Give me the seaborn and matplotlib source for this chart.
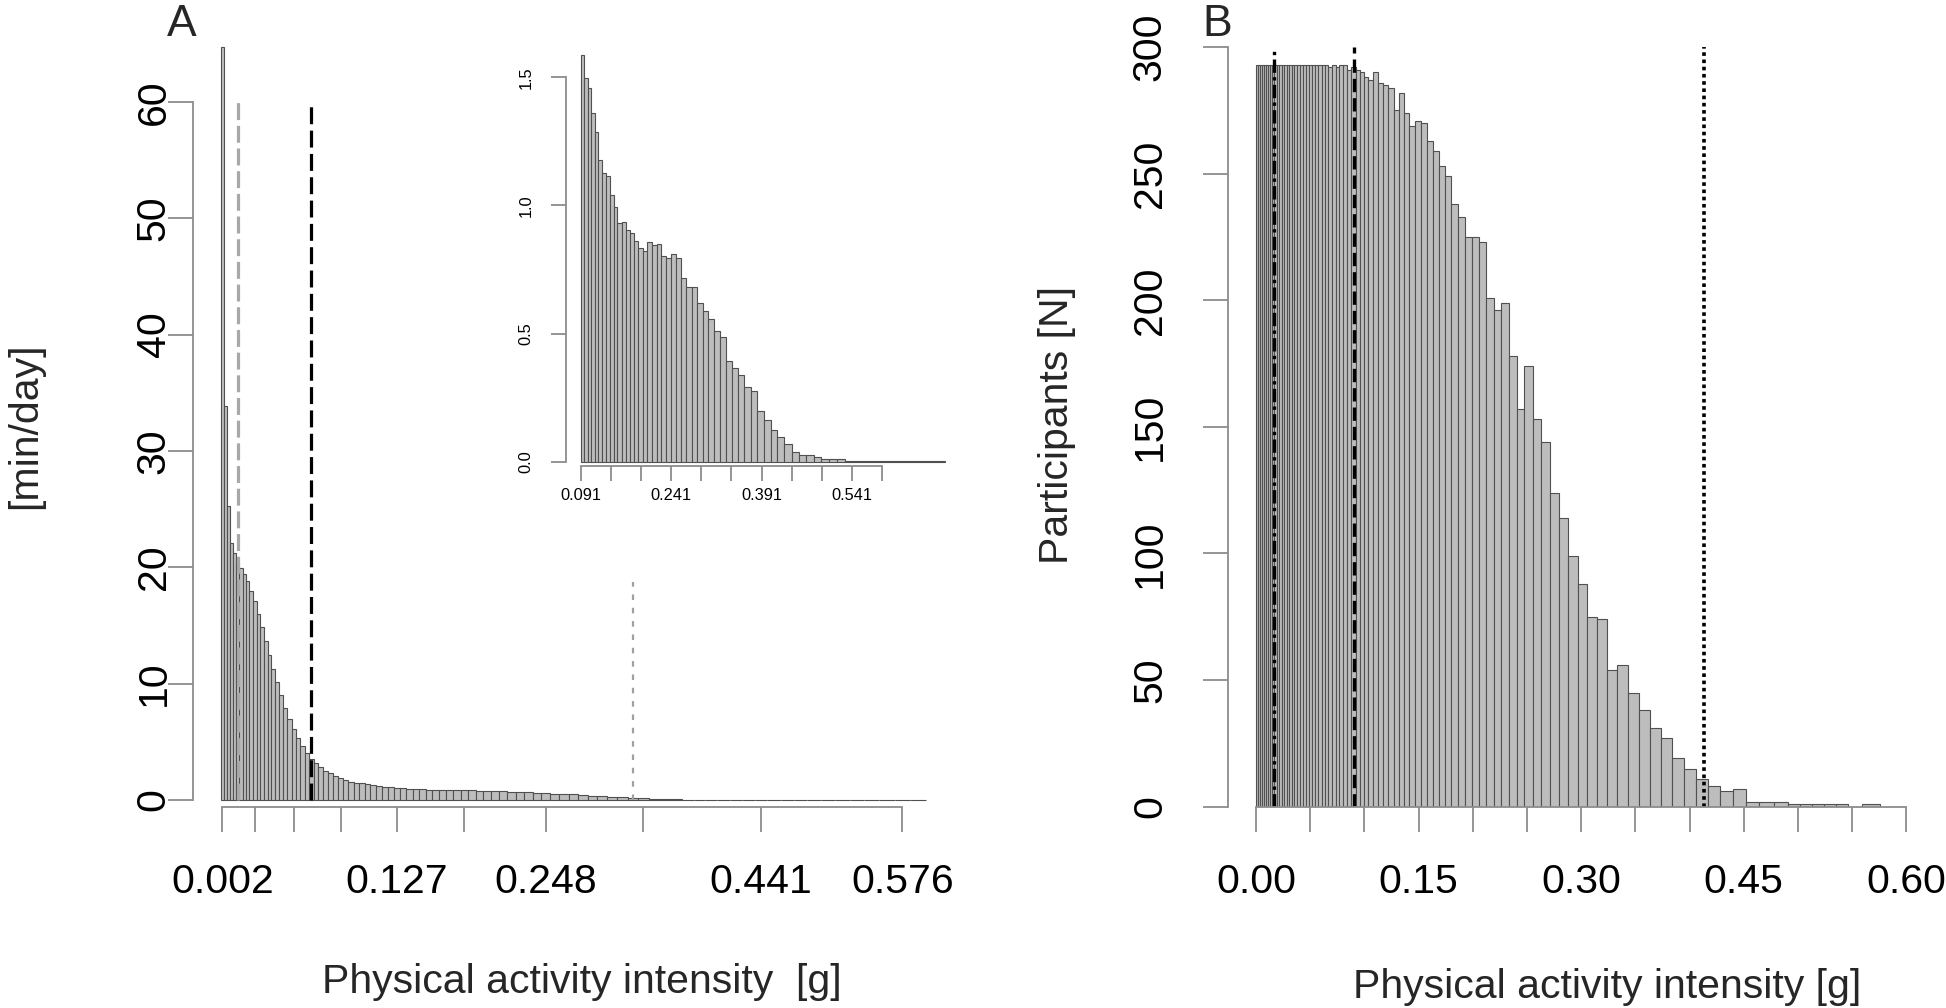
import numpy as np
import pandas as pd
import matplotlib
matplotlib.use("Agg")
import matplotlib.pyplot as plt
import seaborn as sns

# ---------------- data ----------------
# Panel A: time spent per intensity bin [min/day], bins ordered by intensity
a_minutes = [64.7, 33.9, 25.3, 22.1, 21.2, 20.4, 19.9, 19.4, 18.8, 18.0,
             17.1, 16.0, 14.9, 13.7, 12.5, 11.3, 10.1, 9.0, 7.9, 7.0,
             6.1, 5.3, 4.6, 4.0, 3.5, 3.15, 2.8, 2.5, 2.3, 2.06,
             1.86, 1.72,
             1.587, 1.496, 1.457, 1.359, 1.288, 1.179, 1.125, 1.116, 1.040, 0.992,
             0.932, 0.936, 0.904, 0.893, 0.861, 0.832, 0.823, 0.859, 0.845, 0.849,
             0.802, 0.793, 0.810, 0.793, 0.715, 0.683, 0.683, 0.618, 0.589, 0.555,
             0.511, 0.485, 0.393, 0.367, 0.338, 0.293, 0.276, 0.196, 0.163, 0.124,
             0.098, 0.069, 0.039, 0.026, 0.026, 0.017, 0.012, 0.009, 0.009, 0.003,
             0.002, 0.001, 0.001, 0.001, 0.001, 0.001, 0.001, 0.001, 0.001, 0.001]
a_tick_bins = [0, 10, 20, 30, 40, 50, 60, 70, 80, 90]
a_tick_labels = ["0.002", "", "", "", "0.127", "", "0.248", "", "0.441", "0.576"]
a_y_ticks = [0, 10, 20, 30, 40, 50, 60]
a_cut_light_bin = 5       # grey dashed
a_cut_dark_bin = 24       # black dashed
a_cut_dotted_bin = 69     # grey dotted
a_cut_top = 60
a_cut_dotted_top = 18.7

# inset (tail of panel A)
inset_first_bin = 32
inset_tick_labels = ["0.091", "", "", "0.241", "", "", "0.391", "", "", "0.541", ""]
inset_y_ticks = [0.0, 0.5, 1.0, 1.5]

# Panel B: participants per intensity bin (variable bin widths, in g)
b_edges = [0.0000, 0.0017, 0.0035, 0.0053, 0.0071, 0.0090, 0.0109, 0.0129, 0.0149, 0.0170,
           0.0191, 0.0213, 0.0235, 0.0258, 0.0281, 0.0304, 0.0329, 0.0354, 0.0379, 0.0405,
           0.0432, 0.0459, 0.0487, 0.0515, 0.0544, 0.0574, 0.0605, 0.0636, 0.0668, 0.0701,
           0.0734, 0.0769, 0.0804, 0.0842,
           0.0872, 0.0918, 0.0958, 0.0995, 0.1032, 0.1078, 0.1127, 0.1173, 0.1220, 0.1271,
           0.1318, 0.1364, 0.1410, 0.1465, 0.1520, 0.1576, 0.1631, 0.1686, 0.1742, 0.1800,
           0.1865, 0.1929, 0.1991, 0.2055, 0.2126, 0.2193, 0.2261, 0.2338, 0.2405, 0.2476,
           0.2553, 0.2633, 0.2716, 0.2799, 0.2882, 0.2968, 0.3054, 0.3147, 0.3239, 0.3331,
           0.3429, 0.3530, 0.3632, 0.3736, 0.3841, 0.3948, 0.4056, 0.4166, 0.4283, 0.4400,
           0.4523, 0.4645, 0.4775, 0.4904, 0.5021, 0.5131, 0.5242, 0.5352, 0.5463, 0.5592,
           0.5758]
b_participants = [293, 293, 293, 293, 293, 293, 293, 293, 293, 293,
                  293, 293, 293, 293, 293, 293, 293, 293, 293, 293,
                  293, 293, 293, 293, 293, 293, 293, 293, 292, 293,
                  292, 293, 293,
                  291, 292, 291, 290, 288, 287, 290, 286, 285, 284,
                  275, 282, 274, 269, 271, 270, 263, 259, 253, 249,
                  238, 233, 225, 225, 223, 201, 196, 199, 178, 157,
                  174, 153, 144, 124, 114, 99, 88, 75, 74, 54,
                  56, 45, 38, 31, 27, 19, 15, 11, 8, 6,
                  7, 2, 2, 2, 1, 1, 1, 1, 1, 0,
                  1]
b_x_ticks = [0.00, 0.05, 0.10, 0.15, 0.20, 0.25, 0.30, 0.35, 0.40, 0.45, 0.50, 0.55, 0.60]
b_x_labels = ["0.00", "", "", "0.15", "", "", "0.30", "", "", "0.45", "", "", "0.60"]
b_y_ticks = [0, 50, 100, 150, 200, 250, 300]
b_cut_dashdot = 0.0163
b_cut_dashed = 0.0906
b_cut_dotted = 0.413
b_cut_top = 300

# ---------------- style ----------------
sns.set_theme(style="white")
plt.rcParams["font.family"] = ["Liberation Sans", "DejaVu Sans"]

W, H = 1946, 1008
fig = plt.figure(figsize=(W / 100, H / 100), dpi=100)
fig.patch.set_facecolor("white")

def box(x0, y0, x1, y1):
    return [x0 / W, 1 - y1 / H, (x1 - x0) / W, (y1 - y0) / H]

def fpos(x, y):
    return x / W, 1 - y / H

K = 0.0184
def fwd(i):
    return np.exp(K * np.asarray(i, dtype=float))
def inv(f):
    return np.log(np.clip(np.asarray(f, dtype=float), 1e-12, None)) / K

BAR_FACE = "#BDBDBD"
BAR_EDGE = "#505050"
AX_COL = "#8C8C8C"
FS = 29.5

def style_axes(ax, tick_len, label_size, xpad, ypad):
    for s in ["top", "right"]:
        ax.spines[s].set_visible(False)
    for s in ["left", "bottom"]:
        ax.spines[s].set_color(AX_COL)
        ax.spines[s].set_linewidth(1.3)
    ax.tick_params(axis="both", which="major", direction="out", length=tick_len, width=1.3,
                   color=AX_COL, labelsize=label_size, labelcolor="black",
                   bottom=True, left=True, top=False, right=False)
    ax.tick_params(axis="x", pad=xpad)
    ax.tick_params(axis="y", pad=ypad)
    ax.grid(False)
    ax.set_facecolor("none")

def center_ticklabels(ax):
    for lab in ax.get_xticklabels():
        lab.set_va("center")
    for lab in ax.get_yticklabels():
        lab.set_rotation(90)
        lab.set_ha("center")
        lab.set_va("center")

# ---------------- Panel A ----------------
dfA = pd.DataFrame({"bin": np.arange(len(a_minutes)), "minutes": a_minutes})
a_bins = [b - 0.5 for b in range(len(a_minutes) + 1)]
axA = fig.add_axes(box(192.7, 40, 945, 806.7))
sns.histplot(data=dfA, x="bin", weights="minutes", bins=a_bins,
             ax=axA, color=BAR_FACE, edgecolor=BAR_EDGE, linewidth=0.8, alpha=1)
axA.set_xscale("function", functions=(fwd, inv))
axA.set_xlim(-11.1, 92.7)
axA.set_ylim(-0.576, 65.31)
style_axes(axA, 18, FS, 36, 10)
axA.spines["left"].set_bounds(0, 60)
axA.spines["bottom"].set_bounds(a_tick_bins[0], a_tick_bins[-1])
axA.set_xticks(a_tick_bins)
axA.set_xticks([], minor=True)
axA.set_xticklabels(a_tick_labels)
axA.set_yticks(a_y_ticks)
axA.set_yticklabels([str(v) for v in a_y_ticks])
center_ticklabels(axA)
axA.set_xlabel("")
axA.set_ylabel("")
axA.vlines(a_cut_light_bin, 0, a_cut_top, color="#A8A8A8", lw=2.3, linestyles=[(0, (5.3, 1.8))])
axA.vlines(a_cut_dark_bin, 0, a_cut_top, color="black", lw=2.3, linestyles=[(0, (5.3, 2.0))])
axA.vlines(a_cut_dotted_bin, 0, a_cut_dotted_top, color="#A0A0A0", lw=1.6, linestyles=[(0, (2.5, 3.5))])

# ---------------- Inset ----------------
dfI = dfA[dfA["bin"] >= inset_first_bin]
i_bins = [b - 0.5 for b in range(inset_first_bin, len(a_minutes) + 1)]
axI = fig.add_axes(box(566, 50, 960, 466))
sns.histplot(data=dfI, x="bin", weights="minutes", bins=i_bins,
             ax=axI, color=BAR_FACE, edgecolor=BAR_EDGE, linewidth=0.8, alpha=1)
axI.set_xscale("function", functions=(fwd, inv))
axI.set_xlim(26.79, 92.97)
axI.set_ylim(-0.0168, 1.6065)
style_axes(axI, 11, 11.8, 10, 17.6)
inset_ticks = inv(fwd(inset_first_bin - 0.5) + np.arange(len(inset_tick_labels)) * 0.2976)
axI.set_xticks(inset_ticks)
axI.set_xticks([], minor=True)
axI.set_xticklabels(inset_tick_labels)
axI.spines["bottom"].set_bounds(inset_ticks[0], inset_ticks[-1])
axI.spines["left"].set_bounds(0, 1.5)
axI.set_yticks(inset_y_ticks)
axI.set_yticklabels([f"{v:.1f}" for v in inset_y_ticks])
center_ticklabels(axI)
axI.set_xlabel("")
axI.set_ylabel("")

# ---------------- Panel B ----------------
b_centers = [(b_edges[k] + b_edges[k + 1]) / 2 for k in range(len(b_participants))]
dfB = pd.DataFrame({"g": b_centers, "n": b_participants})
axB = fig.add_axes(box(1227.7, 40, 1935, 806.6))
sns.histplot(data=dfB, x="g", weights="n", bins=b_edges, ax=axB,
             color=BAR_FACE, edgecolor=BAR_EDGE, linewidth=0.8, alpha=1)
axB.set_xlim(-0.02618, 0.6265)
axB.set_ylim(0, 302.8)
style_axes(axB, 18, FS, 36, 38)
axB.spines["left"].set_bounds(0, 300)
axB.spines["bottom"].set_bounds(0, 0.6)
axB.set_xticks(b_x_ticks)
axB.set_xticklabels(b_x_labels)
axB.set_yticks(b_y_ticks)
axB.set_yticklabels([str(v) for v in b_y_ticks])
center_ticklabels(axB)
axB.set_xlabel("")
axB.set_ylabel("")
axB.vlines(b_cut_dashdot, 0, b_cut_top, color="black", lw=2.4, linestyles=[(0, (4.0, 1.3, 1.0, 1.3))])
axB.vlines(b_cut_dashed, 0, b_cut_top, color="black", lw=2.4, linestyles=[(0, (4.0, 1.8))])
axB.vlines(b_cut_dotted, 0, b_cut_top, color="black", lw=2.6, linestyles=[(0, (1.0, 1.0))])

# ---------------- texts ----------------
fig.text(*fpos(182, 24), "A", fontsize=32, ha="center", va="center")
fig.text(*fpos(1217, 24), "B", fontsize=32, ha="center", va="center")
fig.text(*fpos(25, 426), "[min/day]", fontsize=FS, rotation=90, ha="center", va="center")
fig.text(*fpos(1057, 425), "Participants [N]", fontsize=FS, rotation=90, ha="center", va="center")
fig.text(*fpos(581.5, 982), "Physical activity intensity  [g]", fontsize=FS, ha="center", va="center")
fig.text(*fpos(1607, 987), "Physical activity intensity [g]", fontsize=FS, ha="center", va="center")

fig.savefig("out.png", dpi=100, facecolor="white")
